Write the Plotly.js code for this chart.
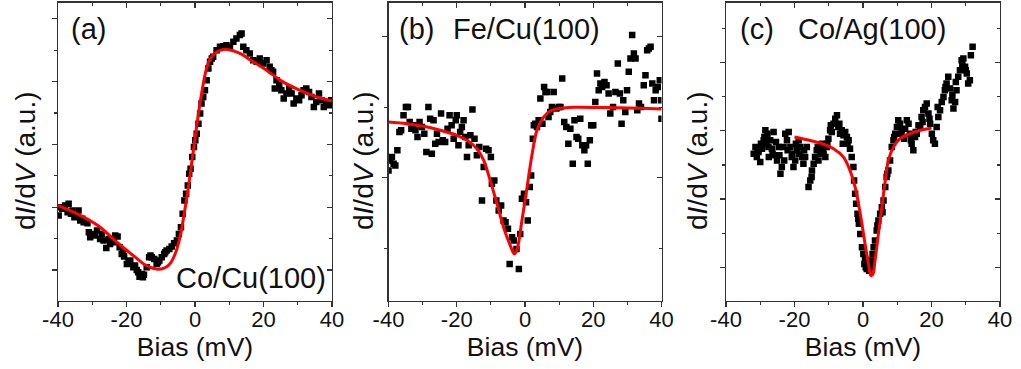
<!DOCTYPE html>
<html>
<head>
<meta charset="utf-8">
<script src="https://cdn.plot.ly/plotly-3.0.1.min.js"></script>
<style>html,body{margin:0;padding:0;background:#fff;}#chart{width:1021px;height:369px;}</style>
</head>
<body>
<div id="chart"></div>
<script>
// ---------- Data (bias in mV, dI/dV in arbitrary units) ----------
const xTickVals = [-40, -20, 0, 20, 40];
const xTickText = ['-40', '-20', '0', '20', '40'];
const panelLabels = ['(a)', '(b)', '(c)'];
const sampleNames = ['Co/Cu(100)', 'Fe/Cu(100)', 'Co/Ag(100)'];
const xTitle = 'Bias (mV)';
const yTitle = 'd<i>I</i>/d<i>V</i> (a.u.)';

// (a) Co/Cu(100) measured
const aBias = [-39.8,-38.8,-37.9,-36.9,-36.2,-35.2,-34.0,-33.5,-32.5,-31.4,-30.6,-29.6,-28.6,-27.7,-26.7,-25.9,-25.2,-24.3,-23.3,-22.6,-22.0,-21.4,-20.7,-19.9,-18.9,-18.0,-17.0,-16.2,-15.5,-14.9,-14.1,-13.4,-12.6,-11.9,-11.2,-10.4,-9.7,-9.0,-8.3,-7.5,-6.8,-6.1,-5.3,-4.7,-4.1,-3.6,-3.1,-2.6,-2.1,-1.7,-1.3,-0.8,-0.3,0.1,0.5,1.0,1.5,1.9,2.4,2.9,3.4,3.9,4.4,4.9,5.3,6.3,7.3,8.3,9.2,10.2,11.2,12.1,13.1,13.6,14.1,15.0,16.0,17.0,18.0,18.9,19.9,20.9,21.8,22.3,22.8,23.3,23.8,24.6,25.2,25.9,26.7,27.5,28.2,28.8,29.6,30.4,31.1,31.7,32.5,33.3,34.0,34.7,35.4,36.2,36.9,37.6,38.3,39.3,39.8,
  -39.3,-37.2,-35.8,-34.6,-32.9,-31.0,-29.2,-27.2,-24.8,-23.8,-21.0,-19.4,-17.5,-16.6,-15.2,-13.0,-10.8,-8.7];
const aCond = [2.55,2.75,2.85,2.90,2.60,2.50,2.70,2.40,2.35,2.32,1.90,2.00,2.10,1.85,1.80,1.58,1.85,1.82,1.95,1.92,1.60,1.40,1.32,1.10,1.20,1.00,0.92,0.72,0.80,0.78,1.00,1.30,1.30,1.25,1.10,1.20,1.30,1.40,1.50,1.55,1.62,1.72,1.80,2.00,2.20,2.60,3.00,3.20,3.45,3.80,3.95,4.30,4.60,4.80,5.00,5.30,5.60,5.90,6.10,6.30,6.60,6.95,7.15,7.25,7.30,7.50,7.60,7.62,7.65,7.58,7.75,7.85,7.95,8.00,7.60,7.50,7.40,7.20,7.15,7.25,7.10,7.20,7.00,6.90,6.85,6.35,6.60,6.45,6.30,6.05,6.20,6.35,6.20,5.90,6.05,6.00,6.15,6.30,6.35,6.25,6.10,5.80,5.95,6.20,6.00,5.80,5.95,5.85,6.00,
  2.80,2.65,2.70,2.55,2.45,2.05,1.95,2.00,1.70,1.75,1.45,1.15,1.05,0.85,0.70,1.35,1.15,1.45];
// (a) fit
const aFitBias = [-40.0,-32.5,-27.7,-22.8,-18.0,-14.1,-10.7,-8.5,-7.0,-6.0,-5.0,-4.0,-3.0,-2.0,-1.0,0.0,1.0,2.0,3.0,4.0,5.5,7.5,9.5,13.1,17.0,20.9,25.7,30.6,35.4,40.0];
const aFitCond = [2.85,2.50,2.20,1.75,1.35,1.05,0.94,1.00,1.15,1.35,1.65,2.10,2.70,3.35,4.10,4.85,5.60,6.25,6.80,7.15,7.38,7.50,7.52,7.40,7.15,6.90,6.55,6.30,6.10,5.98];

// (b) Fe/Cu(100) measured
const bBias = [-40.0,-39.5,-39.0,-38.5,-38.0,-37.4,-36.8,-36.3,-35.6,-34.9,-34.3,-33.8,-33.3,-32.7,-32.1,-31.5,-30.9,-30.2,-29.5,-28.9,-28.3,-27.8,-27.3,-26.8,-26.3,-25.8,-25.3,-24.6,-24.1,-23.4,-22.7,-22.1,-21.5,-20.9,-20.3,-20.0,-19.5,-19.0,-18.5,-18.0,-17.5,-17.0,-16.5,-16.0,-15.4,-14.8,-14.1,-13.4,-12.6,-12.1,-11.4,-10.7,-10.0,-9.7,-9.0,-8.4,-7.7,-7.0,-6.3,-5.7,-5.0,-4.5,-3.8,-3.3,-2.5,-1.8,-1.4,-0.9,-0.3,0.3,0.8,1.4,1.8,2.3,2.6,3.0,3.5,4.0,4.5,5.1,5.6,6.0,6.5,6.9,7.4,7.9,8.4,9.2,9.9,10.4,10.9,11.5,12.1,12.7,13.3,14.0,14.5,15.1,15.6,16.2,16.8,17.4,17.9,18.4,19.0,19.4,20.0,20.6,21.1,21.6,22.1,22.6,23.3,23.9,24.5,25.0,25.8,26.5,27.2,27.8,28.3,28.8,29.4,29.9,30.4,30.9,31.4,31.9,32.4,32.9,33.4,34.0,34.8,35.3,35.8,36.3,36.8,37.3,37.8,38.3,38.9,39.5,39.9,40.0];
const bCond = [3.90,4.20,4.30,4.10,4.05,4.50,5.05,5.10,5.55,5.80,5.80,5.35,5.15,5.25,5.10,4.90,5.35,5.20,5.00,4.45,5.80,5.45,4.40,5.40,4.70,5.00,4.75,5.60,4.80,4.75,5.15,5.55,5.25,4.85,5.40,5.55,4.65,5.05,5.20,5.40,4.90,4.30,4.65,4.95,5.72,4.85,4.35,4.60,3.00,4.00,4.55,4.50,4.30,3.50,3.60,3.00,2.70,2.85,2.40,2.35,2.15,1.10,1.90,1.80,1.55,0.95,2.00,3.05,3.20,2.95,2.40,3.40,3.75,4.85,5.25,5.30,5.20,5.40,6.05,5.30,6.40,6.25,6.25,5.50,5.65,5.80,6.25,5.75,5.80,5.80,6.65,5.35,5.20,4.70,5.15,4.10,5.40,4.90,4.85,5.45,4.65,4.50,4.65,4.10,4.80,5.25,5.25,5.95,6.80,6.30,6.50,6.40,6.55,6.45,6.20,5.60,5.80,6.25,7.10,6.20,5.30,6.00,5.65,6.30,6.85,7.25,7.95,7.40,7.25,5.70,5.90,5.80,6.45,6.75,7.50,7.55,7.60,6.50,6.00,6.30,6.40,6.60,6.00,5.45];
// (b) fit
const bFitBias = [-40.0,-34.6,-29.7,-24.8,-20.0,-17.0,-14.1,-12.1,-10.2,-8.2,-6.3,-4.3,-3.1,-2.3,-0.9,0.6,2.1,3.5,5.5,7.4,10.4,14.3,24.1,33.8,40.0];
const bFitCond = [5.35,5.30,5.22,5.10,4.95,4.80,4.55,4.20,3.60,2.90,2.20,1.65,1.40,1.55,2.40,3.40,4.40,5.10,5.50,5.68,5.76,5.79,5.78,5.76,5.74];

// (c) Co/Ag(100) measured
const cBias = [-31.9,-31.4,-31.0,-30.5,-30.0,-29.5,-29.0,-28.5,-28.2,-27.9,-27.5,-27.1,-26.6,-26.1,-25.6,-25.1,-24.6,-24.1,-23.7,-23.2,-22.7,-22.2,-21.7,-21.2,-20.8,-20.3,-19.8,-19.3,-18.8,-18.3,-17.8,-17.4,-16.9,-16.4,-15.9,-15.4,-14.9,-14.4,-14.0,-13.5,-13.0,-12.5,-12.0,-11.5,-11.0,-10.6,-10.1,-9.6,-9.1,-8.6,-8.1,-7.6,-7.2,-6.7,-6.2,-5.7,-5.2,-4.7,-4.2,-3.8,-3.3,-2.8,-2.6,-2.3,-2.0,-1.6,-1.2,-0.8,-0.3,0.1,0.4,0.8,1.1,1.4,1.8,2.1,2.4,2.8,3.1,3.5,4.0,4.5,5.0,5.5,6.0,6.5,6.9,7.4,7.9,8.4,8.9,9.4,9.9,10.3,10.8,11.3,11.8,12.3,12.8,13.3,13.7,14.2,14.7,15.2,15.7,16.2,16.7,17.1,17.6,18.1,18.6,19.1,19.6,20.1,20.5,21.0,21.5,22.0,22.5,23.0,23.5,23.9,24.4,24.9,25.4,25.9,26.4,26.9,27.3,27.8,28.3,28.8,29.3,29.8,30.3,30.7,31.2,31.5,32.0,
  -30.8,-29.8,-28.8,-27.6,-26.4,-25.4,-24.4,-23.0,-22.0,-20.6,-19.6,-18.6,-17.2,-15.0,-13.2,-11.8,-10.4,-9.4,-6.9,-5.9,-4.5,-1.4,0.6,2.6,4.2,5.7,7.1,9.1,11.1,12.0,14.0,15.4,17.4,19.4,21.8,24.1,26.1,27.1,29.0,30.0];
const cCond = [4.40,4.60,4.30,4.45,4.15,4.55,4.80,5.10,4.70,5.00,4.30,4.80,4.55,5.05,4.35,4.20,4.60,3.80,4.00,4.60,5.00,4.80,5.05,4.60,4.30,4.00,4.20,4.50,4.80,4.60,4.30,4.10,4.30,4.60,3.40,3.60,3.90,4.10,4.30,4.50,4.20,4.40,4.70,4.40,4.30,4.60,4.85,5.10,5.05,5.30,5.45,5.55,5.20,5.00,5.10,4.95,5.05,4.90,4.80,4.55,4.30,4.00,3.60,3.20,2.90,2.60,2.30,2.00,1.60,1.40,1.10,1.00,0.95,1.10,0.90,1.00,1.10,1.40,1.60,1.80,2.10,2.40,2.60,2.80,3.00,3.40,3.70,3.90,4.20,4.60,4.80,5.00,5.20,5.40,5.30,5.10,4.90,5.15,5.40,5.30,5.00,4.70,4.50,4.90,5.00,5.25,5.20,5.50,5.70,5.80,5.90,5.60,5.30,5.00,4.80,4.70,5.20,5.50,5.70,5.95,6.10,6.30,6.50,6.70,6.35,6.00,5.75,5.95,6.30,6.70,6.90,7.20,7.25,7.00,6.80,6.50,6.60,7.35,7.60,
  4.50,4.70,4.90,4.60,4.40,4.75,4.35,4.20,4.50,4.40,4.70,4.40,4.50,3.70,4.60,4.50,4.70,5.25,5.30,4.70,4.70,2.45,1.25,1.20,2.25,2.65,3.80,4.90,5.00,4.85,4.80,5.05,5.35,5.45,5.80,6.40,6.15,6.55,7.05,6.90];
// (c) fit
const cFitBias = [-20.0,-16.4,-12.5,-8.6,-5.7,-3.8,-2.3,-0.8,0.6,1.6,2.3,2.9,3.5,4.5,5.5,6.5,7.4,8.9,10.8,13.7,16.7,20.0];
const cFitCond = [4.90,4.82,4.72,4.55,4.30,3.90,3.40,2.60,1.70,1.10,0.75,0.80,1.20,2.00,2.80,3.60,4.20,4.60,4.85,5.00,5.10,5.17];

// ---------- Styling ----------
const FONT = 'Liberation Sans, Arial, Helvetica, sans-serif';
const LINE = '#333333';
const yRange = [0, 8.92];
const panels = [
  {bias: aBias, cond: aCond, fitX: aFitBias, fitY: aFitCond, dom: [58, 332], yt0: 0.92, ydt: 1.88, ymdt: 0.94, ytx: 25},
  {bias: bBias, cond: bCond, fitX: bFitBias, fitY: bFitCond, dom: [388.5, 661.5], yt0: 3.68, ydt: 4.22, ymdt: 2.11, ytx: 363},
  {bias: cBias, cond: cCond, fitX: cFitBias, fitY: cFitCond, dom: [726, 1000], yt0: 1.0, ydt: 2.043, ymdt: 1.0215, ytx: 697}
];
const W = 1021, H = 369;
const yDom = [(H - 300.7) / H, (H - 2.7) / H];

const data = [];
const layout = {
  width: W, height: H,
  margin: {l: 0, r: 0, t: 0, b: 0},
  paper_bgcolor: '#fff', plot_bgcolor: '#fff',
  font: {family: FONT, color: '#111', size: 22},
  showlegend: false,
  annotations: []
};

panels.forEach((p, i) => {
  const n = i + 1;
  const xs = n === 1 ? '' : String(n);
  const ox = String(n + 3);
  const xName = 'x' + xs, yName = 'y' + xs;
  data.push({type: 'scatter', mode: 'markers', x: p.bias, y: p.cond, xaxis: xName, yaxis: yName,
    marker: {symbol: 'square', size: 6.5, color: '#000'}, hoverinfo: 'skip'});
  data.push({type: 'scatter', mode: 'lines', x: p.fitX, y: p.fitY, xaxis: xName, yaxis: yName,
    line: {color: '#ff0000', width: 3, shape: 'spline', smoothing: 1}, hoverinfo: 'skip'});
  data.push({type: 'scatter', mode: 'markers', x: [], y: [], xaxis: 'x' + ox, yaxis: 'y' + ox, hoverinfo: 'skip'});

  layout['xaxis' + xs] = {
    domain: [p.dom[0] / W, p.dom[1] / W], anchor: yName, range: [-40, 40], tickmode: 'array', tickvals: xTickVals, ticktext: xTickText,
    ticks: 'outside', ticklen: 5, tickwidth: 1.2, tickcolor: LINE,
    minor: {dtick: 10, tick0: 0, ticks: 'outside', ticklen: 3, tickwidth: 1.2, tickcolor: LINE, showgrid: false},
    showline: true, linecolor: LINE, linewidth: 1.3, mirror: true,
    showgrid: false, zeroline: false, fixedrange: true,
    ticklabelstandoff: -6,
    tickfont: {size: 22, family: FONT, color: '#111'},
    title: {text: xTitle, font: {size: 26.5, family: FONT, color: '#111'}, standoff: 3},
    automargin: false
  };
  layout['yaxis' + xs] = {
    domain: yDom, anchor: xName, range: yRange, tick0: p.yt0, dtick: p.ydt,
    ticks: 'outside', ticklen: 5, tickwidth: 1.2, tickcolor: LINE,
    minor: {tick0: p.yt0, dtick: p.ymdt, ticks: 'outside', ticklen: 3, tickwidth: 1.2, tickcolor: LINE, showgrid: false},
    showticklabels: false,
    showline: true, linecolor: LINE, linewidth: 1.3, mirror: true,
    showgrid: false, zeroline: false, fixedrange: true,
    automargin: false
  };
  layout['xaxis' + ox] = {
    overlaying: xName, anchor: yName, side: 'top', range: [-40, 40], tickmode: 'array', tickvals: xTickVals,
    ticks: 'inside', ticklen: 5, tickwidth: 1.2, tickcolor: LINE,
    minor: {dtick: 10, tick0: 0, ticks: 'inside', ticklen: 3, tickwidth: 1.2, tickcolor: LINE, showgrid: false},
    showticklabels: false, showline: false, showgrid: false, zeroline: false, fixedrange: true
  };
  layout['yaxis' + ox] = {
    overlaying: yName, anchor: xName, side: 'right', range: yRange, tick0: p.yt0, dtick: p.ydt,
    ticks: 'inside', ticklen: 5, tickwidth: 1.2, tickcolor: LINE,
    minor: {tick0: p.yt0, dtick: p.ymdt, ticks: 'inside', ticklen: 3, tickwidth: 1.2, tickcolor: LINE, showgrid: false},
    showticklabels: false, showline: false, showgrid: false, zeroline: false, fixedrange: true
  };
  // y-axis title (rotated), placed like the original figure
  layout.annotations.push({text: yTitle, xref: 'paper', yref: 'paper', x: p.ytx / W, y: (H - 161) / H,
    xanchor: 'center', yanchor: 'middle', textangle: -90, showarrow: false,
    font: {size: 28, family: FONT, color: '#111'}});
});

const annFont = {size: 29, family: FONT, color: '#111'};
layout.annotations.push(
  {text: panelLabels[0], xref: 'x domain', yref: 'y domain', x: 0.040, y: 0.912, xanchor: 'left', yanchor: 'middle', showarrow: false, font: annFont},
  {text: sampleNames[0], xref: 'x domain', yref: 'y domain', x: 0.985, y: 0.076, xanchor: 'right', yanchor: 'middle', showarrow: false, font: annFont},
  {text: panelLabels[1], xref: 'x2 domain', yref: 'y2 domain', x: 0.030, y: 0.912, xanchor: 'left', yanchor: 'middle', showarrow: false, font: annFont},
  {text: sampleNames[1], xref: 'x2 domain', yref: 'y2 domain', x: 0.228, y: 0.912, xanchor: 'left', yanchor: 'middle', showarrow: false, font: annFont},
  {text: panelLabels[2], xref: 'x3 domain', yref: 'y3 domain', x: 0.042, y: 0.912, xanchor: 'left', yanchor: 'middle', showarrow: false, font: annFont},
  {text: sampleNames[2], xref: 'x3 domain', yref: 'y3 domain', x: 0.254, y: 0.912, xanchor: 'left', yanchor: 'middle', showarrow: false, font: annFont}
);

Plotly.newPlot('chart', data, layout, {displayModeBar: false, staticPlot: true});
</script>
</body>
</html>
